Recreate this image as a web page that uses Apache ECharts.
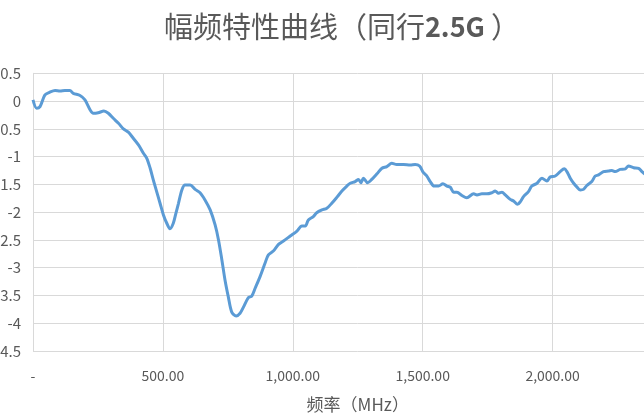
<!DOCTYPE html>
<html>
<head>
<meta charset="utf-8">
<script src="https://cdn.jsdelivr.net/npm/echarts@6/dist/echarts.min.js"></script>
<style>
html,body{margin:0;padding:0;width:644px;height:419px;overflow:hidden;background:#fff;}
#chart{position:absolute;left:-20px;top:0;width:720px;height:419px;}
</style>
</head>
<body>
<div id="chart"></div>
<script>
const freqs = [0,14,27,46,65,85,104,123,142,155,181,200,220,232,251,273,290,309,329,348,367,386,406,425,438,451,463,476,489,502,515,527,540,550,560,573,585,605,624,643,662,682,701,714,727,739,752,765,782,797,810,829,842,855,874,893,906,925,945,964,990,1016,1035,1048,1060,1079,1092,1112,1131,1150,1170,1189,1208,1221,1240,1253,1262,1272,1288,1304,1324,1343,1362,1381,1400,1426,1452,1471,1488,1503,1516,1529,1544,1561,1578,1593,1606,1619,1632,1651,1670,1696,1709,1728,1747,1766,1779,1792,1805,1818,1837,1850,1865,1876,1888,1907,1920,1940,1959,1978,1990,2010,2029,2045,2055,2068,2081,2094,2107,2119,2132,2151,2164,2177,2196,2215,2228,2241,2260,2280,2292,2312,2331,2344,2360];
const gains = [0.02,-0.13,-0.10,0.11,0.16,0.19,0.18,0.19,0.19,0.14,0.10,0.02,-0.16,-0.22,-0.21,-0.18,-0.22,-0.31,-0.40,-0.50,-0.56,-0.67,-0.79,-0.94,-1.03,-1.21,-1.42,-1.63,-1.84,-2.05,-2.20,-2.30,-2.20,-2.02,-1.84,-1.60,-1.51,-1.51,-1.59,-1.65,-1.78,-1.96,-2.23,-2.50,-2.86,-3.22,-3.53,-3.80,-3.87,-3.82,-3.71,-3.54,-3.51,-3.37,-3.16,-2.92,-2.77,-2.70,-2.58,-2.52,-2.43,-2.34,-2.25,-2.25,-2.14,-2.08,-2.01,-1.96,-1.93,-1.84,-1.73,-1.62,-1.53,-1.48,-1.45,-1.41,-1.47,-1.39,-1.47,-1.41,-1.31,-1.21,-1.18,-1.12,-1.14,-1.14,-1.15,-1.14,-1.17,-1.29,-1.35,-1.45,-1.53,-1.53,-1.49,-1.53,-1.55,-1.64,-1.64,-1.70,-1.74,-1.67,-1.69,-1.67,-1.67,-1.65,-1.62,-1.66,-1.64,-1.69,-1.77,-1.80,-1.86,-1.81,-1.72,-1.63,-1.53,-1.48,-1.39,-1.44,-1.37,-1.35,-1.27,-1.22,-1.27,-1.39,-1.48,-1.55,-1.60,-1.59,-1.52,-1.45,-1.35,-1.33,-1.27,-1.26,-1.25,-1.27,-1.23,-1.22,-1.17,-1.20,-1.21,-1.27,-1.33];
const titleMain = '幅频特性曲线（同行';
const titleBold = '2.5G ';
const titleEnd = '）';
const xName = '频率（MHz）';
const xTicks = [0, 500, 1000, 1500, 2000, 2500];
const yTicks = [0.5, 0, -0.5, -1, -1.5, -2, -2.5, -3, -3.5, -4, -4.5];

const chart = echarts.init(document.getElementById('chart'), null, {renderer: 'canvas'});
const font = '"Noto Sans CJK SC", "Noto Sans", sans-serif';
chart.setOption({
  animation: false,
  title: {
    text: '{a|' + titleMain + '}{b|' + titleBold + '}{a|' + titleEnd + '}',
    left: 357,
    top: 7,
    textAlign: 'center',
    textStyle: {
      rich: {
        a: {fontSize: 29, color: '#595959', fontFamily: font, fontWeight: 'normal'},
        b: {fontSize: 27, color: '#595959', fontFamily: font, fontWeight: 'bold'}
      }
    }
  },
  grid: {left: 53, right: 17.5, top: 73.3, bottom: 68, containLabel: false, outerBoundsMode: 'none'},
  xAxis: {
    type: 'value',
    min: xTicks[0],
    max: xTicks[xTicks.length - 1],
    interval: 500,
    name: xName,
    nameLocation: 'middle',
    nameGap: 45,
    nameTextStyle: {fontSize: 17, color: '#595959', fontFamily: font},
    axisLine: {show: true, lineStyle: {color: '#d9d9d9', width: 1}},
    axisTick: {show: false},
    splitLine: {show: true, lineStyle: {color: '#d9d9d9', width: 1}},
    axisLabel: {
      color: '#595959', fontSize: 14, fontFamily: font, margin: 18,
      formatter: function (v) {
        if (v === 0) return '-';
        return v.toLocaleString('en-US', {minimumFractionDigits: 2, maximumFractionDigits: 2});
      }
    }
  },
  yAxis: {
    type: 'value',
    min: yTicks[yTicks.length - 1],
    max: yTicks[0],
    interval: 0.5,
    axisLine: {show: true, lineStyle: {color: '#d9d9d9', width: 1}},
    axisTick: {show: false},
    splitLine: {show: true, lineStyle: {color: '#d9d9d9', width: 1}},
    axisLabel: {
      color: '#595959', fontSize: 15, fontFamily: font, margin: 12,
      formatter: function (v) { return String(Math.round(v * 10) / 10); }
    }
  },
  series: [{
    type: 'line',
    data: freqs.map((f, i) => [f, gains[i]]),
    showSymbol: false,
    smooth: 0.3,
    lineStyle: {color: '#5b9bd5', width: 3},
    itemStyle: {color: '#5b9bd5'}
  }]
});
</script>
</body>
</html>
